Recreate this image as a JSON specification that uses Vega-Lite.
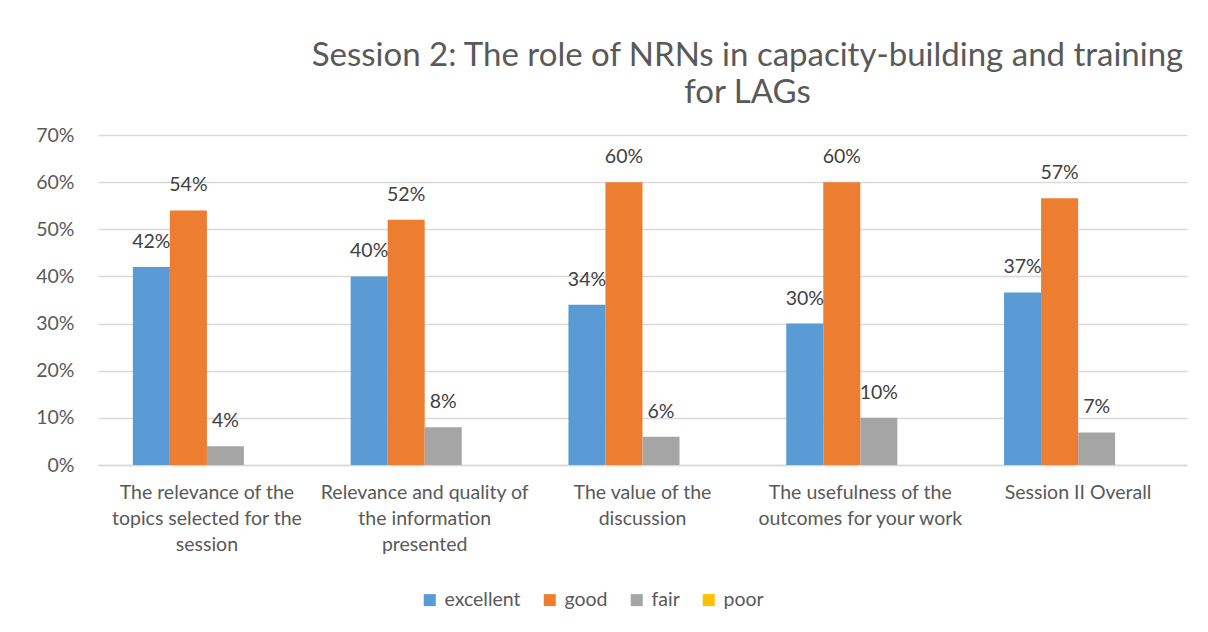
{
  "$schema": "https://vega.github.io/schema/vega-lite/v6.json",
  "width": 1089,
  "height": 330,
  "autosize": {"type": "none"},
  "padding": {"left": 98, "top": 135, "right": 21, "bottom": 167},
  "background": "white",
  "title": {
    "text": ["Session 2: The role of NRNs in capacity-building and training", "for LAGs"],
    "anchor": "middle",
    "frame": "group",
    "dx": 105,
    "offset": 15,
    "font": "Lato",
    "fontSize": 33,
    "fontWeight": "normal",
    "color": "#595959",
    "lineHeight": 37
  },
  "data": {
    "values": [
      {"item": "The relevance of the|topics selected for the|session", "rating": "excellent", "value": 0.42},
      {"item": "The relevance of the|topics selected for the|session", "rating": "good", "value": 0.54},
      {"item": "The relevance of the|topics selected for the|session", "rating": "fair", "value": 0.04},
      {"item": "The relevance of the|topics selected for the|session", "rating": "poor", "value": 0},
      {"item": "Relevance and quality of|the information|presented", "rating": "excellent", "value": 0.40},
      {"item": "Relevance and quality of|the information|presented", "rating": "good", "value": 0.52},
      {"item": "Relevance and quality of|the information|presented", "rating": "fair", "value": 0.08},
      {"item": "Relevance and quality of|the information|presented", "rating": "poor", "value": 0},
      {"item": "The value of the|discussion", "rating": "excellent", "value": 0.34},
      {"item": "The value of the|discussion", "rating": "good", "value": 0.60},
      {"item": "The value of the|discussion", "rating": "fair", "value": 0.06},
      {"item": "The value of the|discussion", "rating": "poor", "value": 0},
      {"item": "The usefulness of the|outcomes for your work", "rating": "excellent", "value": 0.30},
      {"item": "The usefulness of the|outcomes for your work", "rating": "good", "value": 0.60},
      {"item": "The usefulness of the|outcomes for your work", "rating": "fair", "value": 0.10},
      {"item": "The usefulness of the|outcomes for your work", "rating": "poor", "value": 0},
      {"item": "Session II Overall", "rating": "excellent", "value": 0.366},
      {"item": "Session II Overall", "rating": "good", "value": 0.566},
      {"item": "Session II Overall", "rating": "fair", "value": 0.069},
      {"item": "Session II Overall", "rating": "poor", "value": 0}
    ]
  },
  "encoding": {
    "x": {
      "field": "item",
      "type": "nominal",
      "sort": null,
      "title": null,
      "scale": {"paddingInner": 0.32, "paddingOuter": 0.16},
      "axis": {
        "labelExpr": "split(datum.label, '|')",
        "labelAngle": 0,
        "labelLimit": 0,
        "labelFont": "Lato",
        "labelFontSize": 19.5,
        "labelColor": "#595959",
        "labelLineHeight": 26,
        "labelPadding": 18,
        "labelBaseline": "top",
        "ticks": false,
        "domainColor": "#d9d9d9",
        "domainWidth": 1.5
      }
    },
    "xOffset": {"field": "rating", "type": "nominal", "sort": ["excellent", "good", "fair", "poor"], "scale": {"paddingInner": 0, "paddingOuter": 0}},
    "y": {
      "field": "value",
      "type": "quantitative",
      "title": null,
      "scale": {"domain": [0, 0.7]},
      "axis": {
        "format": ".0%",
        "values": [0, 0.1, 0.2, 0.3, 0.4, 0.5, 0.6, 0.7],
        "labelOverlap": false,
        "labelFont": "Lato",
        "labelFontSize": 19.5,
        "labelColor": "#595959",
        "labelPadding": 24,
        "ticks": false,
        "domain": false,
        "gridColor": "#d9d9d9",
        "gridWidth": 1.5
      }
    }
  },
  "layer": [
    {
      "mark": {"type": "bar"},
      "encoding": {
        "color": {
          "field": "rating",
          "type": "nominal",
          "sort": ["excellent", "good", "fair", "poor"],
          "scale": {"domain": ["excellent", "good", "fair", "poor"], "range": ["#5B9BD5", "#ED7D31", "#A5A5A5", "#FFC000"]},
          "legend": {
            "title": null,
            "orient": "none",
            "legendX": 322,
            "legendY": 455,
            "direction": "horizontal",
            "symbolType": "square",
            "symbolSize": 144,
            "symbolStrokeWidth": 0,
            "labelFont": "Lato",
            "labelFontSize": 19.5,
            "labelColor": "#595959",
            "labelOffset": 5,
            "columnPadding": 19
          }
        }
      }
    },
    {
      "transform": [{"filter": "datum.value > 0"}],
      "mark": {"type": "text", "baseline": "bottom", "dy": -15, "font": "Lato", "fontSize": 19.5, "color": "#404040"},
      "encoding": {
        "text": {"field": "value", "type": "quantitative", "format": ".0%"}
      }
    }
  ],
  "config": {"view": {"stroke": null}}
}
